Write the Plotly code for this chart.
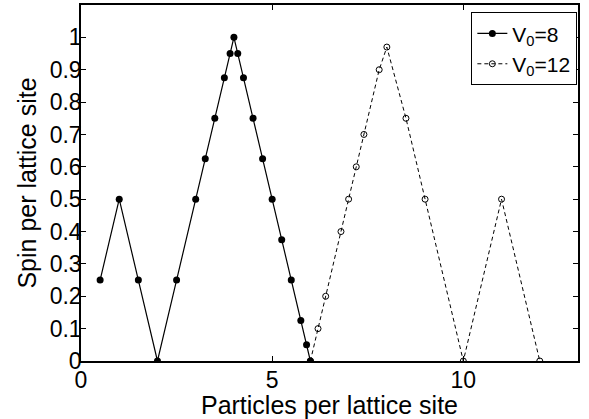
import plotly.graph_objects as go

x_v8 = [0.5, 1, 1.5, 2, 2.5, 3, 3.25, 3.5, 3.75, 3.9, 4, 4.1, 4.25, 4.5, 4.75, 5, 5.25, 5.5, 5.75, 5.9, 6]
y_v8 = [0.25, 0.5, 0.25, 0, 0.25, 0.5, 0.625, 0.75, 0.875, 0.95, 1.0, 0.95, 0.875, 0.75, 0.625, 0.5, 0.375, 0.25, 0.125, 0.05, 0]

x_v12 = [6, 6.2, 6.4, 6.8, 7, 7.2, 7.4, 7.8, 8, 8.5, 9, 10, 11, 12]
y_v12 = [0, 0.1, 0.2, 0.4, 0.5, 0.6, 0.7, 0.9, 0.97, 0.75, 0.5, 0, 0.5, 0]

y_ticks = [0, 0.1, 0.2, 0.3, 0.4, 0.5, 0.6, 0.7, 0.8, 0.9, 1]
y_tick_labels = ["0", "0.1", "0.2", "0.3", "0.4", "0.5", "0.6", "0.7", "0.8", "0.9", "1"]
x_ticks = [0, 5, 10]
x_tick_labels = ["0", "5", "10"]

FONT = "Liberation Sans, Arial, Helvetica, sans-serif"

fig = go.Figure()
fig.add_trace(go.Scatter(
    x=x_v12, y=y_v12, mode="lines+markers", name="V<sub>0</sub>=12",
    line=dict(color="black", width=1, dash="4px,3px"),
    marker=dict(symbol="circle-open", size=6, color="black", line=dict(width=1, color="black")),
    legendrank=2,
))
fig.add_trace(go.Scatter(
    x=x_v8, y=y_v8, mode="lines+markers", name="V<sub>0</sub>=8",
    line=dict(color="black", width=1.2),
    marker=dict(symbol="circle", size=7, color="black"),
    legendrank=1,
))

axis_common = dict(
    showline=True, linecolor="black", linewidth=1.5, mirror="ticks",
    ticks="inside", ticklen=5, tickcolor="black", tickwidth=1,
    showgrid=False, zeroline=False,
    tickfont=dict(family=FONT, size=23, color="black"),
)

fig.update_layout(
    width=589, height=419,
    margin=dict(l=81, r=11, t=3, b=58),
    paper_bgcolor="white", plot_bgcolor="white",
    font=dict(family=FONT, color="black"),
    xaxis=dict(range=[0, 13], tickvals=x_ticks, ticktext=x_tick_labels,
               title=dict(text="Particles per lattice site", font=dict(size=25), standoff=0),
               ticklabelstandoff=-2, **axis_common),
    yaxis=dict(range=[0, 1.1], tickvals=y_ticks, ticktext=y_tick_labels,
               title=dict(text="Spin per lattice site", font=dict(size=25), standoff=6),
               ticklabelstandoff=-7, **axis_common),
    legend=dict(x=0.785, y=0.98, xanchor="left", yanchor="top",
                bordercolor="black", borderwidth=1.2, bgcolor="white",
                font=dict(family=FONT, size=21, color="black"),
                itemwidth=30, tracegroupgap=0),
    showlegend=True,
)

fig.write_html("out.html")
